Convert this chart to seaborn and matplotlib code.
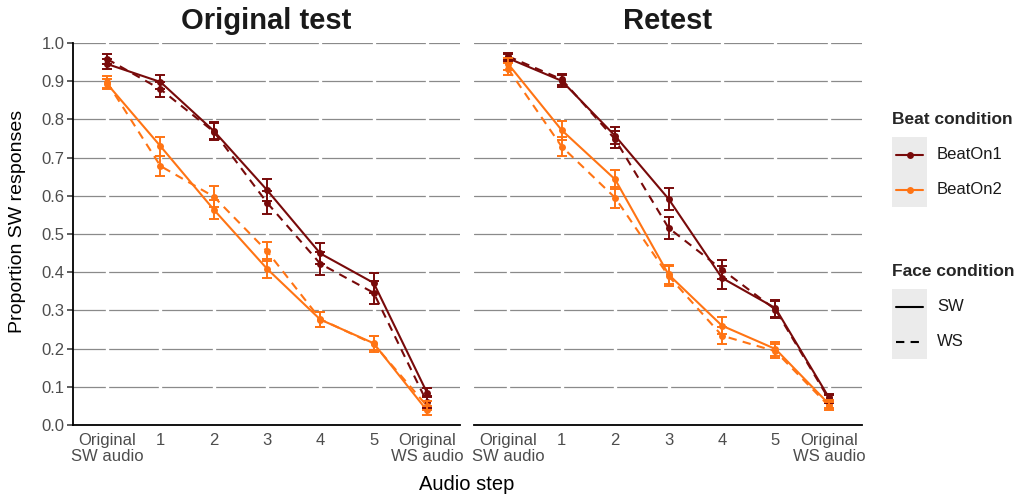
import numpy as np
import pandas as pd
import matplotlib
matplotlib.use("Agg")
import matplotlib.pyplot as plt
import seaborn as sns
from matplotlib.lines import Line2D

# x categories
steps = ["Original\nSW audio", "1", "2", "3", "4", "5", "Original\nWS audio"]

# mean proportion of SW responses
orig_on1_sw = [0.945, 0.898, 0.770, 0.615, 0.449, 0.372, 0.085]
orig_on1_ws = [0.958, 0.879, 0.768, 0.582, 0.422, 0.346, 0.060]
orig_on2_sw = [0.893, 0.730, 0.564, 0.409, 0.276, 0.214, 0.038]
orig_on2_ws = [0.897, 0.678, 0.598, 0.455, 0.277, 0.212, 0.050]

re_on1_sw = [0.960, 0.901, 0.757, 0.592, 0.385, 0.306, 0.072]
re_on1_ws = [0.965, 0.905, 0.748, 0.516, 0.407, 0.302, 0.068]
re_on2_sw = [0.945, 0.772, 0.643, 0.394, 0.260, 0.199, 0.055]
re_on2_ws = [0.932, 0.729, 0.595, 0.390, 0.234, 0.193, 0.050]

# standard errors (half length of the error bars)
orig_on1_sw_se = [0.012, 0.018, 0.022, 0.028, 0.028, 0.026, 0.012]
orig_on1_ws_se = [0.012, 0.020, 0.022, 0.030, 0.030, 0.030, 0.015]
orig_on2_sw_se = [0.014, 0.025, 0.025, 0.025, 0.020, 0.018, 0.012]
orig_on2_ws_se = [0.016, 0.027, 0.027, 0.025, 0.020, 0.020, 0.012]

re_on1_sw_se = [0.010, 0.015, 0.022, 0.028, 0.030, 0.022, 0.010]
re_on1_ws_se = [0.010, 0.015, 0.022, 0.028, 0.025, 0.022, 0.010]
re_on2_sw_se = [0.015, 0.025, 0.025, 0.025, 0.022, 0.018, 0.010]
re_on2_ws_se = [0.015, 0.025, 0.027, 0.025, 0.022, 0.018, 0.010]

panels = {
    "Original test": {
        ("BeatOn1", "SW"): (orig_on1_sw, orig_on1_sw_se),
        ("BeatOn1", "WS"): (orig_on1_ws, orig_on1_ws_se),
        ("BeatOn2", "SW"): (orig_on2_sw, orig_on2_sw_se),
        ("BeatOn2", "WS"): (orig_on2_ws, orig_on2_ws_se),
    },
    "Retest": {
        ("BeatOn1", "SW"): (re_on1_sw, re_on1_sw_se),
        ("BeatOn1", "WS"): (re_on1_ws, re_on1_ws_se),
        ("BeatOn2", "SW"): (re_on2_sw, re_on2_sw_se),
        ("BeatOn2", "WS"): (re_on2_ws, re_on2_ws_se),
    },
}

palette = {"BeatOn1": "#780A0A", "BeatOn2": "#FF7414"}
dash_map = {"SW": "", "WS": (4, 3)}

sns.set_theme(style="white")
plt.rcParams["font.family"] = ["Liberation Sans", "DejaVu Sans"]

fig = plt.figure(figsize=(10.32, 4.99), dpi=100)
W, H = 1032, 499
ax_left = fig.add_axes([73 / W, 1 - 425 / H, 387 / W, 382 / H])
ax_right = fig.add_axes([474 / W, 1 - 425 / H, 388 / W, 382 / H])

for ax, (title, series) in zip([ax_left, ax_right], panels.items()):
    rows = []
    for (beat, face), (vals, ses) in series.items():
        for i, (v, s) in enumerate(zip(vals, ses)):
            rows.append({"step": i, "prop": v, "se": s, "Beat": beat, "Face": face})
    df = pd.DataFrame(rows)

    # horizontal grid, broken by white vertical grid lines
    ax.set_axisbelow(True)
    ax.grid(axis="y", color="#8a8a8a", linewidth=0.9)
    for x in range(len(steps)):
        ax.axvline(x, color="white", linewidth=2.4, zorder=1.5)

    sns.lineplot(data=df, x="step", y="prop", hue="Beat", style="Face",
                 palette=palette, dashes=dash_map, markers={"SW": "o", "WS": "o"},
                 markersize=5, markeredgewidth=0, linewidth=1.5,
                 errorbar=None, legend=False, ax=ax, zorder=3)
    for (beat, face), g in df.groupby(["Beat", "Face"]):
        ax.errorbar(g["step"], g["prop"], yerr=g["se"], fmt="none",
                    ecolor=palette[beat], elinewidth=1.4, capsize=3.4,
                    capthick=1.4, zorder=3)

    ax.set_xlim(-0.64, 6.62)
    ax.set_ylim(0, 1.0)
    ax.set_xticks(range(len(steps)))
    ax.set_xticklabels(steps, fontsize=12, color="#4d4d4d", linespacing=1.05)
    ax.set_title(title, fontsize=21, fontweight="bold", pad=10, color="#1a1a1a")
    ax.set_xlabel("")
    ax.set_ylabel("")
    for side in ["top", "right", "left"]:
        ax.spines[side].set_visible(False)
    ax.spines["bottom"].set_color("black")
    ax.spines["bottom"].set_linewidth(1.3)
    ax.spines["bottom"].set_zorder(5)
    ax.tick_params(axis="x", direction="out", length=4, width=1.1, color="#333333", pad=2)

ax_left.set_yticks(np.arange(0, 1.01, 0.1))
ax_left.set_yticklabels([f"{v:.1f}" for v in np.arange(0, 1.01, 0.1)], fontsize=12, color="#4d4d4d")
ax_left.spines["left"].set_visible(True)
ax_left.spines["left"].set_color("black")
ax_left.spines["left"].set_linewidth(1.3)
ax_left.spines["left"].set_zorder(5)
ax_left.tick_params(axis="y", direction="out", left=True, length=4, width=1.1,
                    color="#333333", pad=2)
ax_right.set_yticks(np.arange(0, 1.01, 0.1))
ax_right.set_yticklabels([])
ax_right.tick_params(axis="y", length=0)

fig.text(18 / W, 1 - 221 / H, "Proportion SW responses", rotation=90,
         ha="center", va="center", fontsize=14, color="black")
fig.text(467 / W, 1 - 485 / H, "Audio step", ha="center", va="center",
         fontsize=14.5, color="black")

# legends (drawn by hand to get ggplot-like grey key boxes)
fig.text(892 / W, 1 - 120 / H, "Beat condition", fontsize=12.5, fontweight="bold",
         ha="left", va="center")
kb = fig.add_axes([892 / W, 1 - 207 / H, 35 / W, 70 / H])
kb.set_facecolor("#ebebeb")
kb.set_xlim(0, 1)
kb.set_ylim(0, 2)
kb.set_xticks([])
kb.set_yticks([])
for s in kb.spines.values():
    s.set_visible(False)
for yk, beat in zip([1.5, 0.5], ["BeatOn1", "BeatOn2"]):
    kb.add_line(Line2D([0.1, 0.9], [yk, yk], color=palette[beat], linewidth=1.5))
    kb.add_line(Line2D([0.5], [yk], marker="o", markersize=5, markeredgewidth=0,
                       color=palette[beat]))
    fig.text(937 / W, 1 - (207 - yk * 35) / H, beat, fontsize=12, ha="left",
             va="center", color="#1a1a1a")

fig.text(892 / W, 1 - 272 / H, "Face condition", fontsize=12.5, fontweight="bold",
         ha="left", va="center")
kf = fig.add_axes([892 / W, 1 - 359 / H, 35 / W, 70 / H])
kf.set_facecolor("#ebebeb")
kf.set_xlim(0, 1)
kf.set_ylim(0, 2)
kf.set_xticks([])
kf.set_yticks([])
for s in kf.spines.values():
    s.set_visible(False)
for yk, face in zip([1.5, 0.5], ["SW", "WS"]):
    ln = Line2D([0.1, 0.9], [yk, yk], color="black", linewidth=1.5)
    if face == "WS":
        ln.set_dashes((4, 3))
    kf.add_line(ln)
    fig.text(937 / W, 1 - (359 - yk * 35) / H, face, fontsize=12, ha="left",
             va="center", color="#1a1a1a")

fig.savefig("out.png", dpi=100)
